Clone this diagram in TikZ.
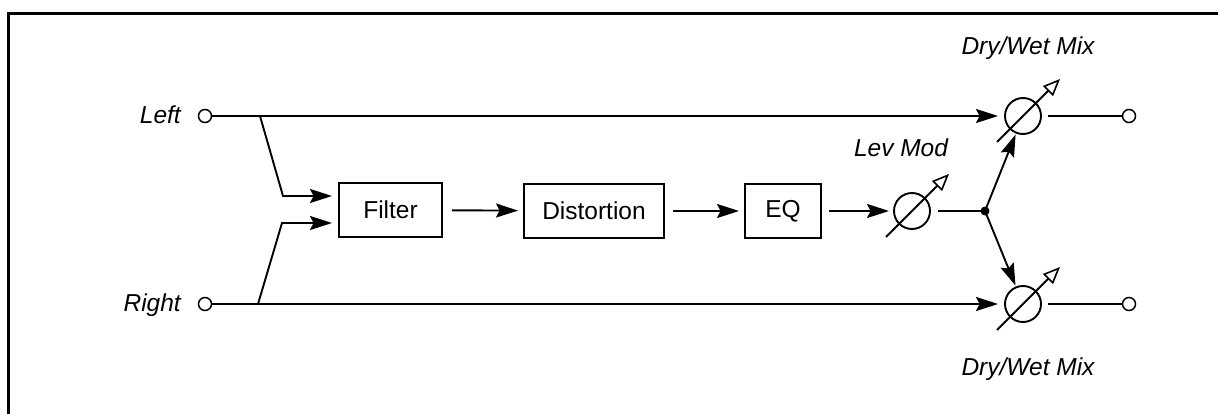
\documentclass[tikz,border=0pt]{standalone}
\usepackage{fontspec}
\setmainfont{Liberation Sans}
\usetikzlibrary{arrows.meta,calc}
\begin{document}
\begin{tikzpicture}[x=1pt,y=-1pt,
  wire/.style={line width=1.9pt},
  sig/.style={wire,-{Stealth[length=22pt,width=14pt,inset=3.5pt]}},
  blk/.style={draw,line width=1.9pt,minimum height=54pt,inner sep=0pt,font=\fontsize{24.5}{28}\selectfont},
  pot/.style={draw,circle,line width=1.9pt,minimum size=36pt,inner sep=0pt},
  term/.style={draw,circle,line width=1.5pt,minimum size=13pt,inner sep=0pt,fill=white},
  lbl/.style={font=\fontsize{24.5}{28}\selectfont\itshape,inner sep=0pt},
  knob/.style={line width=1.9pt,-{Triangle[open,length=17pt,width=14pt,line width=1.6pt]}}
]
\useasboundingbox (0,0) rectangle (1218,414);
\draw[line width=3pt] (8,414) -- (8,14) -- (1218,14);

% terminals and blocks
\node[term] (inL) at (205,116) {};
\node[term] (inR) at (205,304) {};
\node[blk,minimum width=103pt] (filt) at (390.5,210) {Filter};
\node[blk,minimum width=140pt] (dist) at (594,211) {Distortion};
\node[blk,minimum width=76pt] (eq) at (783,211) {EQ};
\node[pot] (lev) at (912,211) {};
\node[pot] (mixU) at (1023,116) {};
\node[pot] (mixD) at (1023,304) {};
\node[term] (outU) at (1129,116) {};
\node[term] (outD) at (1129,304) {};
\coordinate (sp) at (985,211);
\coordinate (bL) at (260,116);
\coordinate (bL2) at (283,196);
\coordinate (bR) at (258,304);
\coordinate (bR2) at (282,223);

% labels
\node[lbl,anchor=base east] (tL) at (181,124) {Left};
\node[lbl,anchor=base east] (tR) at (181,311) {Right};
\node[lbl,anchor=base] (tDU) at (1028,55) {Dry/Wet Mix};
\node[lbl,anchor=base] (tDD) at (1028,375) {Dry/Wet Mix};
\node[lbl,anchor=base] (tLev) at (901,157) {Lev Mod};

% connectors
\draw[sig,shorten >=6pt] (inL) -- (mixU);
\draw[sig,shorten >=6pt] (inR) -- (mixD);
\draw[sig,shorten >=6pt] (bL) -- (bL2) -- (filt.west |- bL2);
\draw[sig,shorten >=6pt] (bR) -- (bR2) -- (filt.west |- bR2);
\draw[sig,shorten <=9pt,shorten >=5pt] (filt) -- (dist);
\draw[sig,shorten <=8pt,shorten >=5pt] (dist) -- (eq);
\draw[sig,shorten <=7pt,shorten >=4pt] (eq) -- (lev);
\draw[wire,shorten <=7pt] (lev) -- (sp);
\draw[sig,shorten >=1pt] (sp) -- (mixU);
\draw[sig,shorten >=1pt] (sp) -- (mixD);
\draw[wire,shorten <=6pt] (mixU) -- (outU);
\draw[wire,shorten <=6pt] (mixD) -- (outD);
\fill (sp) circle (4.5pt);

% variable-level arrows
\draw[knob] ($(lev)+(-26,26)$) -- ($(lev)+(37,-37)$);
\draw[knob] ($(mixU)+(-26,26)$) -- ($(mixU)+(37,-37)$);
\draw[knob] ($(mixD)+(-26,26)$) -- ($(mixD)+(37,-37)$);
\end{tikzpicture}
\end{document}
